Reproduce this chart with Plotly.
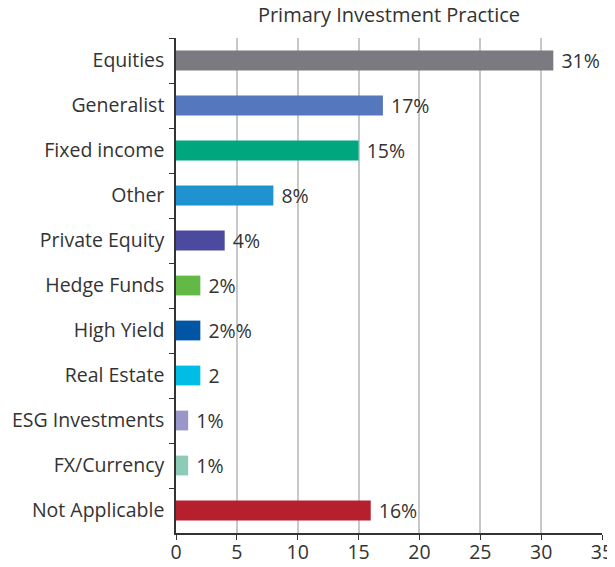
import plotly.graph_objects as go

categories = ["Equities", "Generalist", "Fixed income", "Other", "Private Equity",
              "Hedge Funds", "High Yield", "Real Estate", "ESG Investments",
              "FX/Currency", "Not Applicable"]
values = [31, 17, 15, 8, 4, 2, 2, 2, 1, 1, 16]
labels = ["31%", "17%", "15%", "8%", "4%", "2%", "2%%", "2", "1%", "1%", "16%"]
colors = ["#7b7a80", "#5577be", "#00a67e", "#1f93d0", "#4b4a9e", "#62b946",
          "#0055a4", "#00bde6", "#9b96c9", "#8ccbb7", "#b61f2e"]
x_ticks = [0, 5, 10, 15, 20, 25, 30, 35]

font = "Open Sans, DejaVu Sans, sans-serif"
FS = 19.5

fig = go.Figure(go.Bar(
    y=categories, x=values, orientation="h",
    marker=dict(color=colors, line=dict(width=0)),
    width=0.44,
    text=[" " + t for t in labels], textposition="outside", cliponaxis=False,
    constraintext="none",
    textfont=dict(size=FS, color="#333333", family=font),
))

fig.update_layout(
    width=615, height=567,
    margin=dict(l=168, r=21, t=30, b=42),
    paper_bgcolor="white", plot_bgcolor="white",
    title=dict(text="Primary Investment Practice", x=0.5, xref="paper",
               y=1, yanchor="top", xanchor="center", pad=dict(t=0),
               font=dict(size=20, color="#333333", family=font)),
    showlegend=False,
    font=dict(family=font, color="#333333"),
)
fig.update_xaxes(range=[0, 35], tickvals=x_ticks, showgrid=True, gridcolor="#c8c8c8",
                 gridwidth=1.5, zeroline=False, showline=True, linecolor="#333333",
                 linewidth=1.5, ticks="outside", ticklen=5, tickcolor="#333333",
                 automargin=False, ticklabelstandoff=-4,
                 tickfont=dict(size=FS, color="#333333"))
fig.update_yaxes(categoryorder="array", categoryarray=categories, autorange="reversed",
                 showline=True, linecolor="#333333", linewidth=1.5,
                 ticks="outside", tickson="boundaries", ticklen=5, tickcolor="#333333",
                 automargin=False, ticklabelstandoff=6,
                 showgrid=False, tickfont=dict(size=FS, color="#333333"))

fig.write_html("out.html")
